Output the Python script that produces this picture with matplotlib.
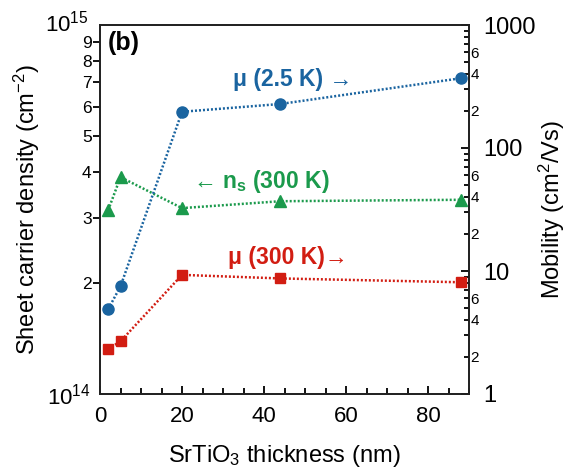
import numpy as np
import matplotlib
matplotlib.use("Agg")
import matplotlib.pyplot as plt
from matplotlib.ticker import LogLocator, FuncFormatter, FixedLocator, MultipleLocator
from matplotlib.transforms import ScaledTranslation

plt.rcParams['font.family'] = ['Liberation Sans', 'DejaVu Sans']
plt.rcParams['mathtext.fontset'] = 'custom'
plt.rcParams['mathtext.rm'] = 'Liberation Sans'
plt.rcParams['mathtext.it'] = 'Liberation Sans:italic'
plt.rcParams['mathtext.bf'] = 'Liberation Sans:bold'

# Data
thickness = [2, 5, 20, 44, 88]
ns_300K = [3.15e14, 3.87e14, 3.19e14, 3.33e14, 3.36e14]
mu_2p5K = [4.9, 7.5, 197, 228, 369]
mu_300K = [2.32, 2.68, 9.3, 8.7, 8.1]

blue = '#1a64a0'
red = '#d21d12'
green = '#1b9a4c'

W, H = 566, 474
fig = plt.figure(figsize=(W / 100, H / 100), dpi=100)
ax = fig.add_axes([100 / W, 1 - 394 / H, 369 / W, 369 / H])
ax2 = ax.twinx()

ls = (0, (0.8, 0.8))
ax.plot(thickness, ns_300K, linestyle=ls, color=green, lw=1.8,
        marker='^', ms=8.5, zorder=3)
ax2.plot(thickness, mu_2p5K, linestyle=ls, color=blue, lw=1.8,
         marker='o', ms=8, zorder=3)
ax2.plot(thickness, mu_300K, linestyle=ls, color=red, lw=1.8,
         marker='s', ms=7.5, zorder=3)

ax.set_xlim(0, 90)
ax.set_yscale('log')
ax.set_ylim(1e14, 1e15)
ax2.set_yscale('log')
ax2.set_ylim(1, 1000)

# x ticks
ax.xaxis.set_major_locator(MultipleLocator(20))
ax.xaxis.set_minor_locator(MultipleLocator(5))
ax.tick_params(axis='x', which='major', direction='in', length=6, width=1.3,
               labelsize=16, pad=9, top=False)
ax.tick_params(axis='x', which='minor', direction='in', length=4, width=1.3, top=False)

# left y ticks
ax.yaxis.set_major_locator(FixedLocator([1e14, 1e15]))
ax.yaxis.set_minor_locator(LogLocator(base=10, subs=np.arange(2, 10)))
ax.yaxis.set_major_formatter(FuncFormatter(lambda v, p: r'$10^{%d}$' % round(np.log10(v))))
ax.yaxis.set_minor_formatter(FuncFormatter(lambda v, p: '%d' % round(v / 1e14)))
ax.tick_params(axis='y', which='major', direction='out', length=0, labelsize=16, pad=7)
ax.tick_params(axis='y', which='minor', direction='out', length=5, width=1.3,
               labelsize=12.5, pad=1)

# right y ticks
ax2.yaxis.set_major_locator(FixedLocator([1, 10, 100, 1000]))
ax2.yaxis.set_minor_locator(LogLocator(base=10, subs=np.arange(2, 10)))
ax2.yaxis.set_major_formatter(FuncFormatter(lambda v, p: '%d' % round(v)))


def minor_fmt(v, p):
    m = round(v / 10 ** np.floor(np.log10(v) + 1e-9))
    return '%d' % m if m in (2, 4, 6) else ''


ax2.yaxis.set_minor_formatter(FuncFormatter(minor_fmt))
ax2.tick_params(axis='y', which='major', direction='in', length=6, width=1.3,
                labelsize=17, pad=10)
ax2.tick_params(axis='y', which='minor', direction='in', length=3.5, width=1.3,
                labelsize=11, pad=1)

for a in (ax, ax2):
    for s in a.spines.values():
        s.set_linewidth(1.3)
        s.set_color('#222222')

# nudge the top decade label up a little so it clears the "9" label
fig.canvas.draw()
major_labels = ax.yaxis.get_majorticklabels()
if major_labels:
    top = major_labels[-1]
    top.set_transform(top.get_transform() + ScaledTranslation(-1 / 72, 3 / 72, fig.dpi_scale_trans))

# axis labels placed explicitly (pixel positions from the reference)
fig.text(284.5 / W, 1 - 456 / H, r'SrTiO$_3$ thickness (nm)', fontsize=17,
         ha='center', va='center')
fig.text(27 / W, 1 - 210 / H, r'Sheet carrier density (cm$^{-2}$)', fontsize=17,
         ha='center', va='center', rotation=90)
fig.text(552 / W, 1 - 210 / H, r'Mobility (cm$^{2}$/Vs)', fontsize=17,
         ha='center', va='center', rotation=90)

ax.text(0.022, 0.951, '(b)', transform=ax.transAxes, fontsize=18, fontweight='bold',
        va='center', ha='left')
ax.text(0.36, 0.851, 'μ (2.5 K) →', transform=ax.transAxes, fontsize=16.5,
        fontweight='bold', color=blue, va='center', ha='left')
ax.text(0.252, 0.575, r'← n$_{\mathbf{s}}$ (300 K)', transform=ax.transAxes, fontsize=16.5,
        fontweight='bold', color=green, va='center', ha='left')
ax.text(0.347, 0.369, 'μ (300 K)→', transform=ax.transAxes, fontsize=16.5,
        fontweight='bold', color=red, va='center', ha='left')

fig.savefig('out.png', dpi=100)
